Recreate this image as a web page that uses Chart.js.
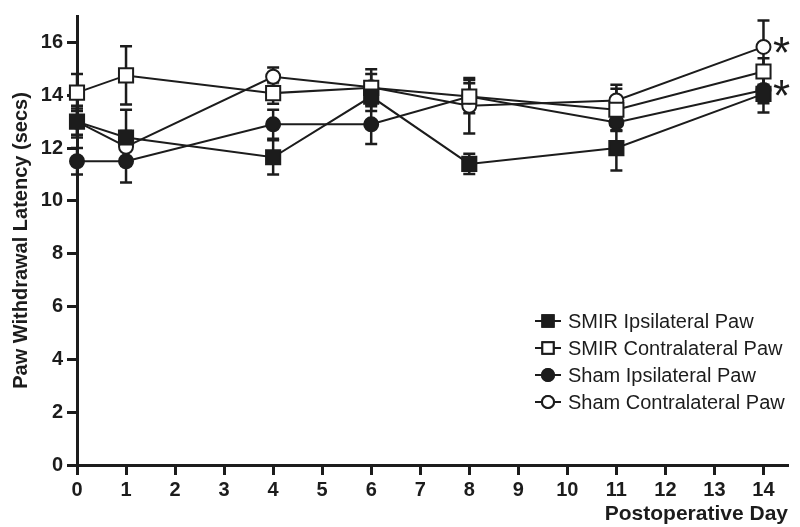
<!DOCTYPE html>
<html>
<head>
<meta charset="utf-8">
<script src="https://cdn.jsdelivr.net/npm/chart.js@4.4.1/dist/chart.umd.min.js"></script>
<style>
  html, body { margin: 0; padding: 0; background: #fff; }
  #wrap { width: 800px; height: 527px; }
</style>
</head>
<body>
<div id="wrap"><canvas id="graph" width="800" height="527"></canvas></div>
<script>
// postoperative days
var days = [0, 1, 4, 6, 8, 11, 14];
var xTicks = [0, 1, 2, 3, 4, 5, 6, 7, 8, 9, 10, 11, 12, 13, 14];
var yTicks = [0, 2, 4, 6, 8, 10, 12, 14, 16];

var seriesNames = ["SMIR Ipsilateral Paw", "SMIR Contralateral Paw", "Sham Ipsilateral Paw", "Sham Contralateral Paw"];

// mean latency (secs) and SEM
var smirIpsi = [13.0, 12.4, 11.65, 13.95, 11.4, 12.0, 14.05];
var smirIpsiErr = [0.6, 1.05, 0.65, 0.55, 0.38, 0.85, 0.7];
var smirContra = [14.1, 14.75, 14.08, 14.28, 13.95, 13.45, 14.9];
var smirContraErr = [0.7, 1.1, 0.4, 0.7, 0.63, 0.8, 0.5];
var shamIpsi = [11.5, 11.5, 12.9, 12.9, 13.95, 12.97, 14.2];
var shamIpsiErr = [0.5, 0.8, 0.55, 0.75, 0.5, 0.3, 0.5];
var shamContra = [13.0, 12.05, 14.7, 14.3, 13.6, 13.8, 15.83];
var shamContraErr = [0.5, 0.6, 0.35, 0.5, 1.05, 0.6, 1.0];

// which series get a significance star at the last day
var starred = [3, 2];

var INK = "#1c1c1c";

function pts(vals) {
  return days.map(function (d, i) { return { x: d, y: vals[i] }; });
}

function makeSet(i, vals, errs, shape, filled) {
  return {
    label: seriesNames[i],
    data: pts(vals),
    errors: errs,
    borderColor: INK,
    borderWidth: 2,
    pointStyle: shape,
    pointRadius: shape === "rect" ? 10 : 7,
    pointHoverRadius: shape === "rect" ? 10 : 7,
    pointBackgroundColor: filled ? INK : "#fff",
    pointBorderColor: INK,
    pointBorderWidth: 2,
    fill: false,
    tension: 0,
    clip: false
  };
}

var errorBars = {
  id: "errorBars",
  beforeDatasetsDraw: function (chart) {
    var ctx = chart.ctx;
    var ys = chart.scales.y;
    ctx.save();
    ctx.strokeStyle = INK;
    ctx.lineWidth = 2.5;
    chart.data.datasets.forEach(function (ds, di) {
      var meta = chart.getDatasetMeta(di);
      meta.data.forEach(function (pt, i) {
        var v = ds.data[i].y, e = ds.errors[i];
        var top = ys.getPixelForValue(v + e);
        var bot = ys.getPixelForValue(v - e);
        ctx.beginPath();
        ctx.moveTo(pt.x, top); ctx.lineTo(pt.x, bot);
        ctx.moveTo(pt.x - 6, top); ctx.lineTo(pt.x + 6, top);
        ctx.moveTo(pt.x - 6, bot); ctx.lineTo(pt.x + 6, bot);
        ctx.stroke();
      });
    });
    ctx.restore();
  }
};

var extras = {
  id: "extras",
  afterDraw: function (chart) {
    var ctx = chart.ctx;
    ctx.save();
    // stars
    ctx.fillStyle = INK;
    ctx.font = "44px 'Liberation Sans', Arial, sans-serif";
    ctx.textAlign = "center";
    ctx.textBaseline = "middle";
    starred.forEach(function (di) {
      var meta = chart.getDatasetMeta(di);
      var pt = meta.data[meta.data.length - 1];
      ctx.fillText("*", pt.x + 18, pt.y + 9);
    });
    // legend
    ctx.font = "20px 'Liberation Sans', Arial, sans-serif";
    ctx.textAlign = "left";
    chart.data.datasets.forEach(function (ds, i) {
      var y = 321 + i * 27;
      ctx.strokeStyle = INK;
      ctx.lineWidth = 2;
      ctx.beginPath();
      ctx.moveTo(535, y); ctx.lineTo(561, y);
      ctx.stroke();
      Chart.helpers.drawPoint(ctx, {
        pointStyle: ds.pointStyle,
        radius: ds.pointStyle === "rect" ? 8 : 6,
        borderWidth: 2
      }, 548, y);
      ctx.fillStyle = ds.pointBackgroundColor;
      ctx.strokeStyle = INK;
      ctx.fill();
      ctx.stroke();
      ctx.fillStyle = INK;
      ctx.fillText(ds.label, 568, y + 1);
    });
    ctx.restore();
  }
};

var ctx = document.getElementById("graph").getContext("2d");

new Chart(ctx, {
  type: "line",
  data: {
    datasets: [
      makeSet(0, smirIpsi, smirIpsiErr, "rect", true),
      makeSet(1, smirContra, smirContraErr, "rect", false),
      makeSet(2, shamIpsi, shamIpsiErr, "circle", true),
      makeSet(3, shamContra, shamContraErr, "circle", false)
    ]
  },
  plugins: [errorBars, extras],
  options: {
    responsive: false,
    animation: false,
    events: [],
    layout: { padding: { top: 9, right: 10, left: 0, bottom: 0 } },
    plugins: {
      legend: { display: false },
      tooltip: { enabled: false }
    },
    scales: {
      x: {
        type: "linear",
        min: 0,
        max: 14.5,
        afterBuildTicks: function (axis) {
          axis.ticks = xTicks.map(function (v) { return { value: v }; });
        },
        afterFit: function (axis) { axis.height = 62; },
        ticks: {
          color: INK,
          padding: 3,
          font: { family: "'Liberation Sans', Arial, sans-serif", size: 20, weight: "bold" },
          maxRotation: 0,
          autoSkip: false
        },
        grid: { drawOnChartArea: false, tickLength: 10, tickWidth: 3, tickColor: INK },
        border: { color: INK, width: 3 },
        title: {
          display: true,
          text: "Postoperative Day",
          align: "end",
          color: INK,
          padding: { top: -7, bottom: 0 },
          font: { family: "'Liberation Sans', Arial, sans-serif", size: 21, weight: "bold" }
        }
      },
      y: {
        min: 0,
        max: 17,
        afterBuildTicks: function (axis) {
          axis.ticks = yTicks.map(function (v) { return { value: v }; });
        },
        afterFit: function (axis) { axis.width = 77; },
        ticks: {
          color: INK,
          padding: 4,
          font: { family: "'Liberation Sans', Arial, sans-serif", size: 20, weight: "bold" }
        },
        grid: { drawOnChartArea: false, tickLength: 10, tickWidth: 3, tickColor: INK },
        border: { color: INK, width: 3 },
        title: {
          display: true,
          text: "Paw Withdrawal Latency (secs)",
          color: INK,
          padding: { top: 9, bottom: 0 },
          font: { family: "'Liberation Sans', Arial, sans-serif", size: 20, weight: "bold" }
        }
      }
    }
  }
});
</script>
</body>
</html>
